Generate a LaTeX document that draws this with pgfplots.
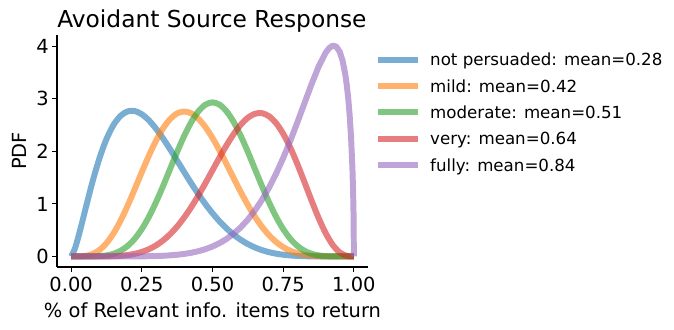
\documentclass[border=0pt]{standalone}
\usepackage{fontspec}
\setmainfont{DejaVu Sans}
\usepackage{pgfplots}
\pgfplotsset{compat=1.18}
\definecolor{c0}{HTML}{1F77B4}
\definecolor{c1}{HTML}{FF7F0E}
\definecolor{c2}{HTML}{2CA02C}
\definecolor{c3}{HTML}{D62728}
\definecolor{c4}{HTML}{9467BD}
\begin{document}
\begin{tikzpicture}
\useasboundingbox (0,0) rectangle (485.28pt,237.6pt);
\begin{axis}[
  at={(41.04pt,45.36pt)}, anchor=south west,
  scale only axis, width=223.92pt, height=167.04pt,
  xmin=-0.05, xmax=1.05, ymin=-0.2, ymax=4.215,
  axis x line*=bottom, axis y line*=left,
  axis line style={-, line width=0.8pt},
  tick align=outside, major tick length=3.5pt,
  every tick/.style={black, line width=0.8pt},
  xtick={0,0.25,0.5,0.75,1}, xticklabels={0.00,0.25,0.50,0.75,1.00},
  ytick={0,1,2,3,4}, yticklabels={0,1,2,3,4},
  tick label style={font=\fontsize{14}{16}\selectfont, inner sep=0pt},
  xticklabel style={anchor=base, yshift=-14.5pt},
  yticklabel style={anchor=east, xshift=-2.2pt},
  title={Avoidant Source Response},
  every axis title/.style={at={(axis description cs:0,1)}, anchor=base west,
    yshift=5.5pt, inner sep=0pt, font=\fontsize{16.8}{20}\selectfont},
  xlabel={\% of Relevant info. items to return},
  ylabel={PDF},
  every axis x label/.style={at={(axis description cs:0.5,0)}, anchor=base,
    yshift=-36.7pt, font=\fontsize{14}{16}\selectfont},
  every axis y label/.style={at={(axis description cs:-0.0965,0.5)}, rotate=90,
    anchor=base, font=\fontsize{14}{16}\selectfont},
  legend cell align=left,
  legend style={at={(axis description cs:1,1)}, anchor=north west,
    xshift=5pt, yshift=-13.1pt, draw=none, fill=none, inner sep=0pt,
    font=\fontsize{12}{14}\selectfont, row sep=10.25pt, column sep=6.5pt,
    nodes={inner sep=0pt, text height=8.75pt, text depth=0pt,
      font=\fontsize{12}{14}\selectfont}},
  legend image code/.code={\draw[line width=4.3pt] (0pt,0pt) -- (28.8pt,0pt);},
  every axis plot/.append style={line width=4.3pt, opacity=0.6, line join=round},
]
% not persuaded
\addplot[c0, smooth] coordinates {
(0,0) (0.0125,0.1374) (0.025,0.3623) (0.0375,0.6200) (0.05,0.8884) (0.075,1.4094)
(0.1,1.8665) (0.125,2.2341) (0.15,2.5039) (0.175,2.6775) (0.2,2.7620)
(0.225,2.7676) (0.25,2.7066) (0.275,2.5914) (0.3,2.4344) (0.325,2.2474)
(0.35,2.0409) (0.375,1.8242) (0.4,1.6054) (0.425,1.3913) (0.45,1.1871)
(0.475,0.9967) (0.5,0.8231) (0.525,0.6679) (0.55,0.5320) (0.575,0.4152)
(0.6,0.3171) (0.625,0.2364) (0.65,0.1716) (0.675,0.1208) (0.7,0.0821)
(0.725,0.0536) (0.75,0.0334) (0.775,0.0197) (0.8,0.0108) (0.825,0.0054)
(0.85,0.0024) (0.875,0.0010) (0.9,0.0003) (0.925,0.0001) (0.95,0) (0.975,0) (1,0)
};
\addlegendentry{not persuaded: mean=0.28}
% mild
\addplot[c1, smooth] coordinates {
(0,0) (0.025,0.0008) (0.05,0.0106) (0.075,0.0458) (0.1,0.1228) (0.125,0.2531)
(0.15,0.4410) (0.175,0.6831) (0.2,0.9689) (0.225,1.2828) (0.25,1.6060)
(0.275,1.9186) (0.3,2.2015) (0.325,2.4377) (0.35,2.6144) (0.375,2.7228)
(0.4,2.7590) (0.425,2.7236) (0.45,2.6219) (0.475,2.4623) (0.5,2.2557)
(0.525,2.0157) (0.55,1.7552) (0.575,1.4880) (0.6,1.2262) (0.625,0.9802)
(0.65,0.7580) (0.675,0.5651) (0.7,0.4043) (0.725,0.2760) (0.75,0.1785)
(0.775,0.1081) (0.8,0.0606) (0.825,0.0307) (0.85,0.0137) (0.875,0.0052)
(0.9,0.0015) (0.925,0.0003) (0.95,0) (0.975,0) (1,0)
};
\addlegendentry{mild: mean=0.42}
% moderate
\addplot[c2, smooth] coordinates {
(0,0) (0.025,0) (0.05,0.0001) (0.075,0.0013) (0.1,0.0064) (0.125,0.0206)
(0.15,0.0516) (0.175,0.1088) (0.2,0.2015) (0.225,0.3377) (0.25,0.5220)
(0.275,0.7545) (0.3,1.0303) (0.325,1.3389) (0.35,1.6654) (0.375,1.9911)
(0.4,2.2954) (0.425,2.5582) (0.45,2.7609) (0.475,2.8888) (0.5,2.9325)
(0.525,2.8888) (0.55,2.7609) (0.575,2.5582) (0.6,2.2954) (0.625,1.9911)
(0.65,1.6654) (0.675,1.3389) (0.7,1.0303) (0.725,0.7545) (0.75,0.5220)
(0.775,0.3377) (0.8,0.2015) (0.825,0.1088) (0.85,0.0516) (0.875,0.0206)
(0.9,0.0064) (0.925,0.0013) (0.95,0.0001) (0.975,0) (1,0)
};
\addlegendentry{moderate: mean=0.51}
% very
\addplot[c3, smooth] coordinates {
(0,0) (0.05,0) (0.075,0.0001) (0.1,0.0006) (0.125,0.0022) (0.15,0.0059)
(0.175,0.0136) (0.2,0.0275) (0.225,0.0507) (0.25,0.0865) (0.275,0.1385)
(0.3,0.2100) (0.325,0.3044) (0.35,0.4241) (0.375,0.5703) (0.4,0.7432)
(0.425,0.9410) (0.45,1.1605) (0.475,1.3961) (0.5,1.6406) (0.525,1.8850)
(0.55,2.1188) (0.575,2.3304) (0.6,2.5081) (0.625,2.6403) (0.65,2.7163)
(0.675,2.7275) (0.7,2.6684) (0.725,2.5370) (0.75,2.3360) (0.775,2.0733)
(0.8,1.7617) (0.825,1.4195) (0.85,1.0692) (0.875,0.7363) (0.9,0.4464)
(0.925,0.2220) (0.95,0.0772) (0.975,0.0113) (1,0)
};
\addlegendentry{very: mean=0.64}
% fully
\addplot[c4] coordinates {
(0,0) (0.1,0) (0.15,0.0001) (0.2,0.0006) (0.25,0.0026) (0.3,0.0081)
(0.325,0.0134) (0.35,0.0213) (0.375,0.0327) (0.4,0.0488) (0.425,0.0708)
(0.45,0.1004) (0.475,0.1395) (0.5,0.1900) (0.525,0.2542) (0.55,0.3348)
(0.575,0.4344) (0.6,0.5557) (0.625,0.7016) (0.65,0.8746) (0.675,1.0771)
(0.7,1.3109) (0.725,1.5766) (0.75,1.8738) (0.775,2.2000) (0.8,2.5495)
(0.825,2.9128) (0.85,3.2743) (0.875,3.6088) (0.9,3.8766) (0.9125,3.9663)
(0.925,4.0116) (0.9375,3.9960) (0.95,3.8955) (0.96,3.7296) (0.97,3.4548)
(0.975,3.2610) (0.98,3.0153) (0.985,2.6991) (0.99,2.2776) (0.995,1.6641)
(0.9975,1.1961) (0.999,0.7639) (1,0)
};
\addlegendentry{fully: mean=0.84}
\end{axis}
\end{tikzpicture}
\end{document}
